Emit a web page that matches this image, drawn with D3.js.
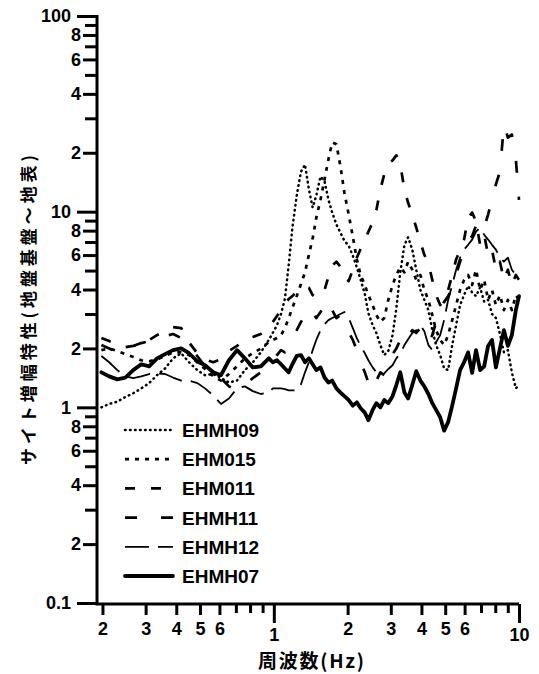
<!DOCTYPE html>
<html>
<head>
<meta charset="utf-8">
<script src="https://d3js.org/d3.v7.min.js"></script>
<style>
  body { margin: 0; background: #fff; }
  .axis path, .axis line { stroke: #000; stroke-width: 3; }
  .axis text { font-family: "Liberation Sans", Arial, sans-serif; font-size: 18px; font-weight: bold; fill: #000; }
  .legend text { font-family: "Liberation Sans", Arial, sans-serif; font-size: 19px; font-weight: bold; fill: #000; }
  .title { font-family: "Noto Sans CJK JP", sans-serif; font-weight: bold; fill: #000; }
</style>
</head>
<body>
<svg id="vis"></svg>
<script>
// frequencies (Hz), shared by all stations
var freq = [0.198,0.213,0.230,0.248,0.267,0.288,0.310,0.334,0.360,0.388,0.419,0.451,0.487,0.524,0.566,0.609,0.656,0.708,0.762,0.821,0.885,0.954,
  0.99,1.03,1.07,1.11,1.15,1.19,1.24,1.29,1.34,1.39,1.44,1.49,1.55,1.61,1.67,1.73,1.80,1.87,1.94,2.02,2.10,2.18,2.26,2.35,2.43,2.53,2.62,2.72,
  2.82,2.93,3.05,3.16,3.28,3.41,3.53,3.67,3.81,3.96,4.11,4.27,4.43,4.59,4.77,4.95,5.14,5.34,5.54,5.75,5.97,6.20,6.44,6.68,6.94,7.21,7.48,7.76,
  8.05,8.36,8.68,9.01,9.35,9.71,10.0];

var ehmh09 = [1.0,1.04,1.07,1.13,1.18,1.25,1.33,1.46,1.58,1.78,1.89,1.70,1.55,1.46,1.48,1.41,1.34,1.37,1.55,1.70,1.91,2.21,
  2.40,2.63,3.0,3.6,5.35,8.25,12.1,16.0,17.4,13.0,10.5,12.1,15.1,14.3,11.5,9.9,8.6,7.8,7.1,6.7,5.95,5.2,4.48,3.8,3.03,2.63,2.40,2.08,
  1.85,1.94,2.34,3.2,4.9,6.77,7.4,6.4,5.05,3.98,3.54,3.14,2.48,2.08,1.85,1.58,1.55,2.08,2.63,3.33,3.75,4.17,3.86,3.7,4.1,3.46,3.54,3.0,
  2.86,2.37,1.91,1.96,1.51,1.25,1.30];

var ehm015 = [1.96,2.0,1.94,1.87,1.81,1.74,1.72,1.76,1.83,1.91,1.91,1.85,1.70,1.57,1.44,1.37,1.48,1.62,1.78,1.89,2.0,2.15,
  2.21,2.26,2.34,2.54,2.86,3.22,3.7,4.27,4.9,6.02,7.3,9.3,11.5,14.6,18.5,22.6,22.1,17.0,12.5,9.66,7.45,5.7,4.75,4.22,3.75,3.33,2.96,2.73,
  2.86,3.54,4.22,4.75,5.2,4.9,5.55,5.05,4.48,4.75,3.98,3.54,2.96,2.48,2.21,2.08,2.34,2.79,3.33,3.98,4.48,4.75,4.22,5.05,3.98,4.48,3.54,3.98,
  3.33,3.75,3.14,3.54,3.14,3.75,3.54];

var ehm011 = [2.26,2.18,2.10,2.03,2.06,2.10,2.21,2.34,2.45,2.57,2.54,2.15,1.89,1.76,1.70,1.76,1.94,2.06,2.21,2.29,2.37,2.54,
  2.73,2.93,3.14,3.37,3.58,3.7,3.9,3.98,4.12,4.08,3.75,3.62,3.75,3.98,4.64,5.3,5.55,5.22,4.58,4.42,5.05,5.82,6.45,7.1,7.9,8.8,10.2,13.0,
  15.5,17.7,18.3,19.4,17.4,13.0,11.1,9.66,8.3,7.0,6.02,5.42,4.48,3.75,3.33,3.54,3.98,4.75,5.7,6.4,7.2,9.3,9.9,8.9,6.77,7.62,6.02,6.4,
  5.05,5.55,4.48,5.05,4.22,4.75,4.48];

var ehmh11 = [2.08,2.0,1.91,1.96,2.06,2.13,2.18,2.23,2.31,2.37,2.26,2.06,1.83,1.62,1.49,1.41,1.28,1.22,1.31,1.41,1.51,1.62,
  1.70,1.85,1.96,1.91,2.06,2.26,2.48,2.73,2.96,3.22,3.07,2.86,3.07,3.33,3.54,3.14,2.86,2.96,2.73,2.42,2.21,1.96,1.70,1.51,1.34,1.22,1.37,1.51,
  1.46,1.70,1.87,2.0,2.21,2.08,2.31,2.48,2.40,2.54,2.34,2.15,2.34,2.73,3.14,3.46,3.7,4.07,4.75,5.55,6.4,7.2,7.5,8.5,9.1,8.3,9.66,11.5,
  13.8,16.0,27.9,23.9,24.8,18.5,11.5];

var ehmh12 = [1.83,1.70,1.55,1.44,1.41,1.44,1.48,1.49,1.48,1.42,1.37,1.37,1.33,1.25,1.15,1.04,1.11,1.25,1.28,1.21,1.17,1.19,
  1.25,1.25,1.25,1.24,1.22,1.22,1.22,1.31,1.51,1.70,1.96,2.21,2.48,2.66,2.79,2.86,2.93,3.0,3.07,2.86,2.54,2.26,2.06,1.89,1.74,1.60,1.51,1.46,
  1.49,1.57,1.64,1.78,1.89,2.08,2.23,2.40,2.48,2.63,2.45,2.08,1.96,2.15,2.34,2.79,3.54,4.22,5.05,5.82,6.4,6.77,7.2,7.9,8.3,7.62,7.2,6.77,
  6.4,5.82,5.55,5.82,5.05,4.75,4.48];

var ehmh07 = [1.51,1.44,1.39,1.42,1.55,1.66,1.62,1.78,1.87,1.96,2.0,1.89,1.72,1.64,1.51,1.46,1.74,1.96,1.78,1.60,1.62,1.78,
  1.70,1.74,1.66,1.58,1.51,1.66,1.83,1.85,1.70,1.78,1.66,1.55,1.60,1.42,1.34,1.37,1.25,1.19,1.14,1.09,1.02,1.06,0.99,0.94,0.86,0.97,1.05,1.0,
  1.09,1.05,1.14,1.30,1.51,1.19,1.11,1.30,1.53,1.37,1.28,1.17,1.05,0.97,0.89,0.76,0.84,1.02,1.25,1.55,1.70,1.91,1.50,1.96,1.55,1.62,2.06,2.21,
  1.60,2.0,2.48,2.06,2.34,3.14,3.7];

var seriesNames = ["EHMH09", "EHM015", "EHM011", "EHMH11", "EHMH12", "EHMH07"];
var seriesValues = [ehmh09, ehm015, ehm011, ehmh11, ehmh12, ehmh07];

var yTickValues = [0.1,0.2,0.3,0.4,0.5,0.6,0.7,0.8,0.9,1,2,3,4,5,6,7,8,9,10,20,30,40,50,60,70,80,90,100];
var yTickLabels = ["0.1","2","","4","","6","","8","","1","2","","4","","6","","8","","10","2","","4","","6","","8","","100"];
var xTickValues = [0.2,0.3,0.4,0.5,0.6,0.7,0.8,0.9,1,2,3,4,5,6,7,8,9,10];
var xTickLabels = ["2","3","4","5","6","","","","1","2","3","4","5","6","","","","10"];

// line styles per station, same order as seriesNames
var lineStyles = [
  {dash: "0.6,4.4", width: 2.5, cap: "round"},
  {dash: "4,6", width: 2.7, cap: "butt"},
  {dash: "10,16", width: 2.7, cap: "butt"},
  {dash: "12,24", width: 2.7, cap: "butt"},
  {dash: "24,9", width: 1.8, cap: "butt"},
  {dash: null, width: 3.8, cap: "round"}
];

var margin = {top: 16, right: 20, bottom: 71, left: 97},
    width = 539 - margin.left - margin.right,
    height = 674 - margin.top - margin.bottom;

var svg = d3.select("#vis")
    .attr("width", 539)
    .attr("height", 674);

var g = svg.append("g")
    .attr("transform", "translate(" + margin.left + "," + margin.top + ")");

var x = d3.scaleLog().domain([0.19, 10]).range([0, width]);
var y = d3.scaleLog().domain([0.1, 100]).range([height, 0]);

function isDecade(d) {
  var l = Math.log10(d);
  return Math.abs(l - Math.round(l)) < 1e-6;
}

// y axis
var yAxis = g.append("g")
    .attr("class", "axis")
    .call(d3.axisLeft(y)
      .tickValues(yTickValues)
      .tickFormat(function(d, i) { return yTickLabels[i]; })
      .tickSizeOuter(0));

yAxis.select(".domain").attr("d", "M0," + (height + 2) + "V" + (-1));
yAxis.selectAll(".tick line")
    .attr("x2", function(d, i) { return isDecade(d) ? -20 : (yTickLabels[i] ? -14 : -12); });
yAxis.selectAll(".tick text")
    .attr("x", function(d) { return isDecade(d) ? -26 : -16; });

// x axis
var xAxis = g.append("g")
    .attr("class", "axis")
    .attr("transform", "translate(0," + (height + 1) + ")")
    .call(d3.axisBottom(x)
      .tickValues(xTickValues)
      .tickFormat(function(d, i) { return xTickLabels[i]; })
      .tickSizeOuter(0));

xAxis.select(".domain").attr("d", "M-1.5,0H" + width);
xAxis.selectAll(".tick line")
    .attr("y2", function(d, i) { return isDecade(d) ? 19 : (xTickLabels[i] ? 11 : 9); });
xAxis.selectAll(".tick text")
    .attr("y", function(d) { return isDecade(d) ? 24 : 18; });

// curves
var line = d3.line()
    .x(function(d) { return x(d[0]); })
    .y(function(d) { return y(d[1]); });

seriesValues.forEach(function(vals, i) {
  var pts = freq.map(function(f, j) { return [f, vals[j]]; });
  var st = lineStyles[i];
  g.append("path")
      .datum(pts)
      .attr("fill", "none")
      .attr("stroke", "#000")
      .attr("stroke-width", st.width)
      .attr("stroke-linecap", st.cap)
      .attr("stroke-linejoin", "round")
      .attr("stroke-dasharray", st.dash)
      .attr("d", line);
});

// legend
var legend = svg.append("g")
    .attr("class", "legend")
    .attr("transform", "translate(125,430)");

var item = legend.selectAll("g")
    .data(seriesNames)
  .enter().append("g")
    .attr("transform", function(d, i) { return "translate(0," + (i * 29.2) + ")"; });

item.append("line")
    .attr("x1", 0)
    .attr("x2", 48)
    .attr("stroke", "#000")
    .attr("stroke-width", function(d, i) { return lineStyles[i].width; })
    .attr("stroke-linecap", function(d, i) { return lineStyles[i].cap; })
    .attr("stroke-dasharray", function(d, i) { return lineStyles[i].dash; });

item.append("text")
    .attr("x", 57)
    .attr("y", 7)
    .text(function(d) { return d; });

// axis titles
svg.append("text")
    .attr("class", "title")
    .attr("transform", "translate(27,310) rotate(-90)")
    .attr("text-anchor", "middle")
    .attr("dominant-baseline", "central")
    .attr("font-size", 17)
    .attr("textLength", 310)
    .attr("lengthAdjust", "spacing")
    .text("サイト増幅特性(地盤基盤～地表)");

svg.append("text")
    .attr("class", "title")
    .attr("x", 311)
    .attr("y", 668)
    .attr("text-anchor", "middle")
    .attr("font-size", 19)
    .attr("textLength", 106)
    .attr("lengthAdjust", "spacing")
    .text("周波数(Hz)");
</script>
</body>
</html>
